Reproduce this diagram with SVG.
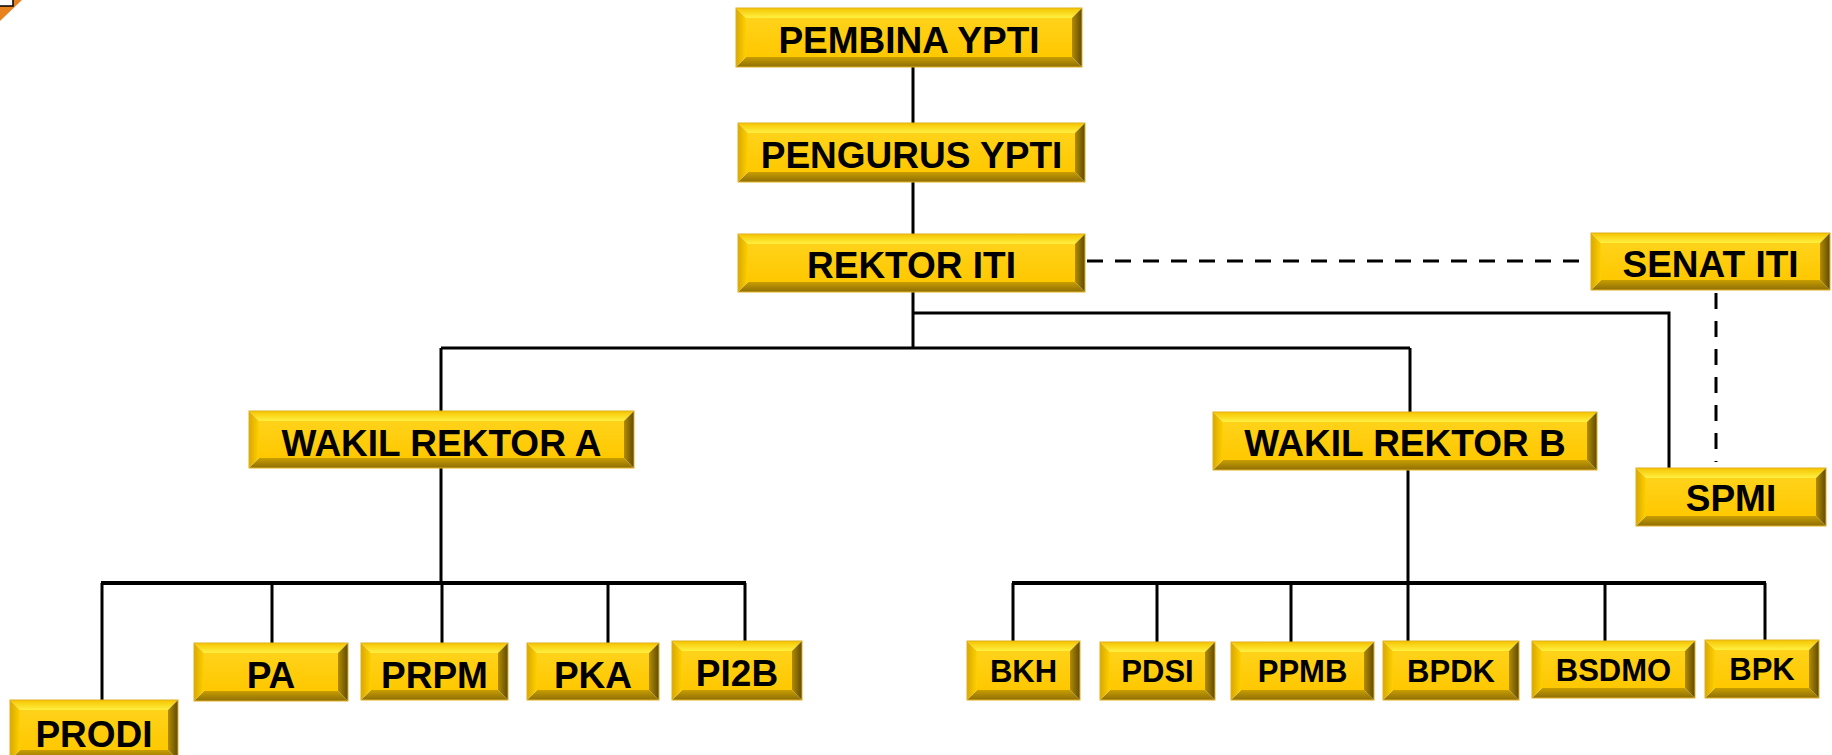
<svg xmlns="http://www.w3.org/2000/svg" width="1832" height="755" viewBox="0 0 1832 755">
<defs>
<linearGradient id="gFace" x1="0" y1="0" x2="0" y2="1"><stop offset="0" stop-color="#FFD21A"/><stop offset="1" stop-color="#FFC800"/></linearGradient>
<linearGradient id="gTop" x1="0" y1="0" x2="0" y2="1"><stop offset="0" stop-color="#F5C400"/><stop offset="1" stop-color="#FFF040"/></linearGradient>
<linearGradient id="gBot" x1="0" y1="0" x2="0" y2="1"><stop offset="0" stop-color="#C89E00"/><stop offset="1" stop-color="#8E6E08"/></linearGradient>
<linearGradient id="gLeft" x1="0" y1="0" x2="1" y2="0"><stop offset="0" stop-color="#D9A800"/><stop offset="1" stop-color="#FFD000"/></linearGradient>
<linearGradient id="gRight" x1="0" y1="0" x2="1" y2="0"><stop offset="0" stop-color="#B38C00"/><stop offset="1" stop-color="#5E4A0A"/></linearGradient>
</defs>
<style>
.face{fill:url(#gFace)}
.bt{fill:url(#gTop)}
.bb{fill:url(#gBot)}
.bl{fill:url(#gLeft)}
.br{fill:url(#gRight)}
.edge{fill:none;stroke:#E0B020;stroke-width:1}
text{font-family:"Liberation Sans",Arial,sans-serif;font-weight:bold;fill:#000;text-anchor:middle}
.t1{font-size:37px}
.t2{font-size:31px}
.ln{fill:none;stroke:#000;stroke-width:3}
.bus{fill:none;stroke:#000;stroke-width:4}
.dash{fill:none;stroke:#000;stroke-width:3;stroke-dasharray:16 12}
</style>
<g id="corner">
<polygon points="0,0 22,0 0,21" fill="#E8821E"/>
<rect x="-2" y="-2" width="15" height="8" fill="#fff" stroke="#000" stroke-width="1.5"/>
</g>
<g id="connectors">
<path class="ln" d="M913 67V123M913 182V234M913 292V348"/>
<path class="ln" d="M441 348H1410M441 348V411M1410 348V412"/>
<path class="ln" d="M913 313H1669V468"/>
<path class="ln" d="M441 468V583M1408 470V583"/>
<path class="bus" d="M101 583H746M1012 583H1766"/>
<path class="ln" d="M102 583V700M272 583V643M442 583V643M608 583V643M745 583V641"/>
<path class="ln" d="M1013 583V641M1157 583V642M1291 583V642M1408 583V641M1605 583V641M1765 583V640"/>
<path class="dash" d="M1087 261H1591"/>
<path class="dash" d="M1716 293V462"/>
</g>
<g id="pembina">
<rect class="face" x="746" y="18" width="326" height="39"/>
<polygon class="bt" points="736,8 1082,8 1072,18 746,18"/>
<polygon class="bb" points="736,67 1082,67 1072,57 746,57"/>
<polygon class="bl" points="736,8 746,18 746,57 736,67"/>
<polygon class="br" points="1082,8 1072,18 1072,57 1082,67"/>
<rect class="edge" x="736" y="8" width="346" height="59"/>
<text class="t1" x="909" y="53">PEMBINA YPTI</text>
</g>
<g id="pengurus">
<rect class="face" x="748" y="133" width="327" height="39"/>
<polygon class="bt" points="738,123 1085,123 1075,133 748,133"/>
<polygon class="bb" points="738,182 1085,182 1075,172 748,172"/>
<polygon class="bl" points="738,123 748,133 748,172 738,182"/>
<polygon class="br" points="1085,123 1075,133 1075,172 1085,182"/>
<rect class="edge" x="738" y="123" width="347" height="59"/>
<text class="t1" x="911.5" y="167.5">PENGURUS YPTI</text>
</g>
<g id="rektor">
<rect class="face" x="748" y="244" width="327" height="38"/>
<polygon class="bt" points="738,234 1085,234 1075,244 748,244"/>
<polygon class="bb" points="738,292 1085,292 1075,282 748,282"/>
<polygon class="bl" points="738,234 748,244 748,282 738,292"/>
<polygon class="br" points="1085,234 1075,244 1075,282 1085,292"/>
<rect class="edge" x="738" y="234" width="347" height="58"/>
<text class="t1" x="911.5" y="278">REKTOR ITI</text>
</g>
<g id="senat">
<rect class="face" x="1601" y="243" width="219" height="37"/>
<polygon class="bt" points="1591,233 1830,233 1820,243 1601,243"/>
<polygon class="bb" points="1591,290 1830,290 1820,280 1601,280"/>
<polygon class="bl" points="1591,233 1601,243 1601,280 1591,290"/>
<polygon class="br" points="1830,233 1820,243 1820,280 1830,290"/>
<rect class="edge" x="1591" y="233" width="239" height="57"/>
<text class="t1" x="1710.5" y="276.5">SENAT ITI</text>
</g>
<g id="wakil-a">
<rect class="face" x="259" y="421" width="365" height="37"/>
<polygon class="bt" points="249,411 634,411 624,421 259,421"/>
<polygon class="bb" points="249,468 634,468 624,458 259,458"/>
<polygon class="bl" points="249,411 259,421 259,458 249,468"/>
<polygon class="br" points="634,411 624,421 624,458 634,468"/>
<rect class="edge" x="249" y="411" width="385" height="57"/>
<text class="t1" x="441.5" y="455.5">WAKIL REKTOR A</text>
</g>
<g id="wakil-b">
<rect class="face" x="1223" y="422" width="364" height="38"/>
<polygon class="bt" points="1213,412 1597,412 1587,422 1223,422"/>
<polygon class="bb" points="1213,470 1597,470 1587,460 1223,460"/>
<polygon class="bl" points="1213,412 1223,422 1223,460 1213,470"/>
<polygon class="br" points="1597,412 1587,422 1587,460 1597,470"/>
<rect class="edge" x="1213" y="412" width="384" height="58"/>
<text class="t1" x="1405" y="456">WAKIL REKTOR B</text>
</g>
<g id="spmi">
<rect class="face" x="1646" y="478" width="170" height="38"/>
<polygon class="bt" points="1636,468 1826,468 1816,478 1646,478"/>
<polygon class="bb" points="1636,526 1826,526 1816,516 1646,516"/>
<polygon class="bl" points="1636,468 1646,478 1646,516 1636,526"/>
<polygon class="br" points="1826,468 1816,478 1816,516 1826,526"/>
<rect class="edge" x="1636" y="468" width="190" height="58"/>
<text class="t1" x="1731" y="511">SPMI</text>
</g>
<g id="prodi">
<rect class="face" x="20" y="710" width="148" height="40"/>
<polygon class="bt" points="10,700 178,700 168,710 20,710"/>
<polygon class="bb" points="10,760 178,760 168,750 20,750"/>
<polygon class="bl" points="10,700 20,710 20,750 10,760"/>
<polygon class="br" points="178,700 168,710 168,750 178,760"/>
<rect class="edge" x="10" y="700" width="168" height="60"/>
<text class="t1" x="94" y="747">PRODI</text>
</g>
<g id="pa">
<rect class="face" x="204" y="653" width="134" height="38"/>
<polygon class="bt" points="194,643 348,643 338,653 204,653"/>
<polygon class="bb" points="194,701 348,701 338,691 204,691"/>
<polygon class="bl" points="194,643 204,653 204,691 194,701"/>
<polygon class="br" points="348,643 338,653 338,691 348,701"/>
<rect class="edge" x="194" y="643" width="154" height="58"/>
<text class="t1" x="271" y="688">PA</text>
</g>
<g id="prpm">
<rect class="face" x="371" y="653" width="127" height="37"/>
<polygon class="bt" points="361,643 508,643 498,653 371,653"/>
<polygon class="bb" points="361,700 508,700 498,690 371,690"/>
<polygon class="bl" points="361,643 371,653 371,690 361,700"/>
<polygon class="br" points="508,643 498,653 498,690 508,700"/>
<rect class="edge" x="361" y="643" width="147" height="57"/>
<text class="t1" x="434.5" y="687.5">PRPM</text>
</g>
<g id="pka">
<rect class="face" x="537" y="653" width="112" height="37"/>
<polygon class="bt" points="527,643 659,643 649,653 537,653"/>
<polygon class="bb" points="527,700 659,700 649,690 537,690"/>
<polygon class="bl" points="527,643 537,653 537,690 527,700"/>
<polygon class="br" points="659,643 649,653 649,690 659,700"/>
<rect class="edge" x="527" y="643" width="132" height="57"/>
<text class="t1" x="593" y="687.5">PKA</text>
</g>
<g id="pi2b">
<rect class="face" x="682" y="651" width="110" height="39"/>
<polygon class="bt" points="672,641 802,641 792,651 682,651"/>
<polygon class="bb" points="672,700 802,700 792,690 682,690"/>
<polygon class="bl" points="672,641 682,651 682,690 672,700"/>
<polygon class="br" points="802,641 792,651 792,690 802,700"/>
<rect class="edge" x="672" y="641" width="130" height="59"/>
<text class="t1" x="737" y="686">PI2B</text>
</g>
<g id="bkh">
<rect class="face" x="977" y="651" width="93" height="39"/>
<polygon class="bt" points="967,641 1080,641 1070,651 977,651"/>
<polygon class="bb" points="967,700 1080,700 1070,690 977,690"/>
<polygon class="bl" points="967,641 977,651 977,690 967,700"/>
<polygon class="br" points="1080,641 1070,651 1070,690 1080,700"/>
<rect class="edge" x="967" y="641" width="113" height="59"/>
<text class="t2" x="1023.5" y="681.5">BKH</text>
</g>
<g id="pdsi">
<rect class="face" x="1110" y="652" width="95" height="38"/>
<polygon class="bt" points="1100,642 1215,642 1205,652 1110,652"/>
<polygon class="bb" points="1100,700 1215,700 1205,690 1110,690"/>
<polygon class="bl" points="1100,642 1110,652 1110,690 1100,700"/>
<polygon class="br" points="1215,642 1205,652 1205,690 1215,700"/>
<rect class="edge" x="1100" y="642" width="115" height="58"/>
<text class="t2" x="1157.5" y="682">PDSI</text>
</g>
<g id="ppmb">
<rect class="face" x="1241" y="652" width="123" height="38"/>
<polygon class="bt" points="1231,642 1374,642 1364,652 1241,652"/>
<polygon class="bb" points="1231,700 1374,700 1364,690 1241,690"/>
<polygon class="bl" points="1231,642 1241,652 1241,690 1231,700"/>
<polygon class="br" points="1374,642 1364,652 1364,690 1374,700"/>
<rect class="edge" x="1231" y="642" width="143" height="58"/>
<text class="t2" x="1302.5" y="682">PPMB</text>
</g>
<g id="bpdk">
<rect class="face" x="1393" y="651" width="116" height="39"/>
<polygon class="bt" points="1383,641 1519,641 1509,651 1393,651"/>
<polygon class="bb" points="1383,700 1519,700 1509,690 1393,690"/>
<polygon class="bl" points="1383,641 1393,651 1393,690 1383,700"/>
<polygon class="br" points="1519,641 1509,651 1509,690 1519,700"/>
<rect class="edge" x="1383" y="641" width="136" height="59"/>
<text class="t2" x="1451" y="681.5">BPDK</text>
</g>
<g id="bsdmo">
<rect class="face" x="1542" y="651" width="143" height="37"/>
<polygon class="bt" points="1532,641 1695,641 1685,651 1542,651"/>
<polygon class="bb" points="1532,698 1695,698 1685,688 1542,688"/>
<polygon class="bl" points="1532,641 1542,651 1542,688 1532,698"/>
<polygon class="br" points="1695,641 1685,651 1685,688 1695,698"/>
<rect class="edge" x="1532" y="641" width="163" height="57"/>
<text class="t2" x="1613.5" y="680.5">BSDMO</text>
</g>
<g id="bpk">
<rect class="face" x="1715" y="650" width="94" height="38"/>
<polygon class="bt" points="1705,640 1819,640 1809,650 1715,650"/>
<polygon class="bb" points="1705,698 1819,698 1809,688 1715,688"/>
<polygon class="bl" points="1705,640 1715,650 1715,688 1705,698"/>
<polygon class="br" points="1819,640 1809,650 1809,688 1819,698"/>
<rect class="edge" x="1705" y="640" width="114" height="58"/>
<text class="t2" x="1762" y="680">BPK</text>
</g>
</svg>
